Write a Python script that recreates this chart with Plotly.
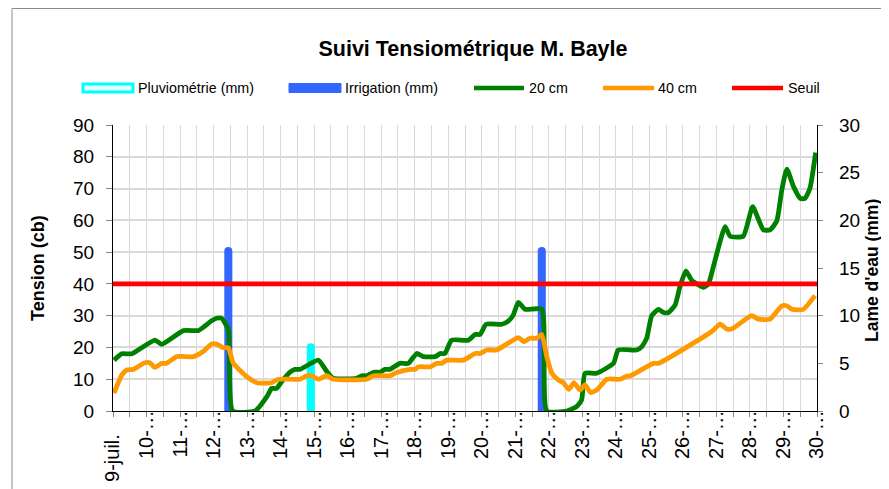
import plotly.graph_objects as go

# ---------------- DATA ----------------
# x values: day of July (fractional = time of day)
jours_ticks = list(range(9, 31))
tick_labels = ["9-juil.\u2003\u2009"] + [f"{d}-…" for d in range(10, 31)]

x_20cm = [9.03, 9.26, 9.56, 10.25, 10.45, 11.10, 11.54, 11.69, 11.94, 12.09, 12.24, 12.44,
          12.57, 13.24, 13.59, 13.73, 13.88, 14.03, 14.28, 14.43, 14.58, 15.12, 15.38, 15.57,
          16.27, 16.42, 16.57, 16.77, 16.97, 17.11, 17.26, 17.56, 17.81, 18.06, 18.26, 18.61,
          18.76, 18.90, 19.10, 19.60, 19.80, 19.95, 20.13, 20.60, 20.79, 20.94, 21.09, 21.29,
          21.79, 21.94, 22.54, 22.83, 22.98, 23.08, 23.43, 23.93, 24.07, 24.62, 24.77, 24.92,
          25.07, 25.27, 25.42, 25.57, 25.77, 25.91, 26.09, 26.26, 26.61, 26.76, 26.96, 27.26,
          27.41, 27.80, 28.08, 28.28, 28.40, 28.60, 28.80, 28.95, 29.10, 29.30, 29.50, 29.64,
          29.79, 29.96]
tension_20cm = [16.0, 18.0, 18.0, 22.3, 21.0, 25.3, 25.3, 26.3, 28.4, 29.2, 29.2, 25.5,
                0.0, 0.0, 4.5, 7.1, 7.1, 9.2, 12.2, 13.1, 13.1, 16.0, 12.4, 10.3,
                10.3, 11.1, 11.1, 12.2, 12.2, 13.1, 13.1, 15.0, 15.0, 18.1, 17.1, 17.1,
                18.1, 18.1, 22.3, 22.3, 24.1, 24.1, 27.3, 27.3, 28.3, 30.2, 34.2, 32.0,
                32.0, 0.0, 0.0, 1.4, 3.5, 11.9, 11.9, 15.0, 19.2, 19.2, 20.2, 22.9,
                30.0, 32.0, 31.0, 31.0, 33.4, 39.1, 44.1, 41.2, 38.9, 40.0, 47.5, 58.0,
                55.0, 55.0, 64.3, 59.6, 57.0, 57.0, 59.8, 69.5, 76.1, 70.6, 66.9, 66.9,
                70.1, 81.3]

x_40cm = [9.03, 9.26, 9.41, 9.61, 9.95, 10.10, 10.25, 10.45, 10.60, 10.90, 11.40, 11.69,
          11.94, 12.09, 12.29, 12.44, 12.59, 12.99, 13.29, 13.73, 13.93, 14.58, 14.78, 14.92,
          15.12, 15.38, 15.57, 16.57, 16.77, 17.26, 17.46, 17.86, 18.01, 18.11, 18.46, 18.66,
          18.80, 18.95, 19.45, 19.80, 19.95, 20.15, 20.44, 21.09, 21.26, 21.44, 21.64, 21.79,
          21.94, 22.09, 22.28, 22.43, 22.60, 22.75, 22.93, 23.08, 23.25, 23.43, 23.73, 24.13,
          24.33, 24.42, 25.12, 25.27, 26.86, 27.11, 27.31, 27.46, 28.05, 28.25, 28.60, 28.95,
          29.10, 29.25, 29.59, 29.94]
tension_40cm = [5.6, 11.3, 12.9, 13.1, 15.2, 15.2, 13.7, 15.0, 15.0, 17.1, 17.1, 18.7,
                21.1, 21.1, 19.9, 19.9, 15.0, 10.8, 8.9, 8.9, 10.0, 10.0, 11.1, 11.1,
                10.0, 11.1, 10.0, 10.0, 11.1, 11.1, 12.1, 13.1, 13.1, 13.9, 13.9, 15.0,
                15.0, 16.0, 16.0, 18.1, 18.1, 19.2, 19.2, 23.1, 21.8, 22.9, 22.9, 24.1,
                17.1, 11.9, 9.8, 8.9, 6.8, 8.9, 6.6, 8.2, 5.8, 6.6, 10.0, 10.0,
                11.0, 11.0, 15.0, 15.0, 25.0, 27.3, 25.8, 25.8, 30.0, 28.9, 28.9, 33.1,
                33.1, 32.0, 32.0, 36.3]

x_seuil = [9, 30]
seuil = [40, 40]

x_irrigation = [12.44, 21.79]
irrigation_mm = [17.2, 17.2]

x_pluvio = [14.90]
pluvio_mm = [7.1]

# ---------------- STYLE / LAYOUT ----------------
# page body has an 8 px margin, so the figure is drawn from (8, 8) in the window
OFF = 8
WIN_W, WIN_H = 889, 489
W, H = WIN_W - OFF, WIN_H - OFF
L, R, T, B = 113, 817, 125, 411          # plot box in window pixels
FONT = "Liberation Sans, Arial, sans-serif"
GREEN, ORANGE, RED = "#008000", "#FF9900", "#FF0000"
BLUE, CYAN = "#3366FF", "#00FFFF"
GRID = "#D9D9D9"


def px(xp):
    return (xp - L) / (R - L)


def py(yp):
    return (B - yp) / (B - T)


fig = go.Figure()

# bars on primary y (mm, right side)
fig.add_trace(go.Bar(x=x_pluvio, y=pluvio_mm, width=0.24, name="Pluviométrie (mm)",
                     marker=dict(color=CYAN, line=dict(width=0), cornerradius=4),
                     yaxis="y", showlegend=False))
fig.add_trace(go.Bar(x=x_irrigation, y=irrigation_mm, width=0.24, name="Irrigation (mm)",
                     marker=dict(color=BLUE, line=dict(width=0), cornerradius=4),
                     yaxis="y", showlegend=False))

# lines on overlaying y2 (cb, left side)
fig.add_trace(go.Scatter(x=x_20cm, y=tension_20cm, mode="lines", name="20 cm",
                         line=dict(color=GREEN, width=4.8, shape="spline", smoothing=0.5),
                         yaxis="y2", showlegend=False))
fig.add_trace(go.Scatter(x=x_40cm, y=tension_40cm, mode="lines", name="40 cm",
                         line=dict(color=ORANGE, width=4.8, shape="spline", smoothing=0.5),
                         yaxis="y2", showlegend=False))
fig.add_trace(go.Scatter(x=x_seuil, y=seuil, mode="lines", name="Seuil",
                         line=dict(color=RED, width=4.8), yaxis="y2", showlegend=False))

fig.update_layout(
    width=W, height=H, autosize=False,
    margin=dict(l=L - OFF, r=WIN_W - R, t=T - OFF, b=WIN_H - B, pad=0),
    paper_bgcolor="white", plot_bgcolor="white",
    font=dict(family=FONT, size=19, color="black"),
    barmode="overlay",
    title=dict(text="<b>Suivi Tensiométrique M. Bayle</b>", x=(473 - OFF) / W, xanchor="center",
               y=1 - (48 - OFF) / H, yanchor="middle", font=dict(size=21.5, family=FONT)),
    xaxis=dict(range=[9, 30], tickmode="array", tickvals=jours_ticks, ticktext=tick_labels,
               tickangle=-90, showline=True, linecolor="black", linewidth=1.3,
               ticks="outside", ticklen=5, tickcolor="#888888",
               ticklabelstandoff=-15, automargin=False,
               showgrid=True, gridcolor=GRID, gridwidth=1,
               minor=dict(dtick=0.5, tick0=9, showgrid=True, gridcolor=GRID,
                          ticks="outside", ticklen=5, tickcolor="#888888"),
               zeroline=False, tickfont=dict(size=20)),
    yaxis=dict(range=[0, 30], dtick=5, side="right", showgrid=False, zeroline=False,
               showline=True, linecolor="black", linewidth=1.3, automargin=False,
               ticks="outside", ticklen=5, tickcolor="#888888",
               ticklabelstandoff=12, tickfont=dict(size=19)),
    yaxis2=dict(range=[0, 90], dtick=10, side="left", overlaying="y", anchor="x",
                showgrid=True, gridcolor=GRID, gridwidth=1.5, zeroline=False,
                showline=True, linecolor="black", linewidth=1.3, automargin=False,
                ticks="outside", ticklen=6, tickcolor="#888888",
                ticklabelstandoff=8, tickfont=dict(size=19)),
)

# axis titles
fig.add_annotation(text="<b>Tension (cb)</b>", xref="paper", yref="paper",
                   x=px(38), y=py(268), textangle=-90, showarrow=False,
                   font=dict(size=18), xanchor="center", yanchor="middle")
fig.add_annotation(text="<b>Lame d'eau (mm)</b>", xref="paper", yref="paper",
                   x=px(872), y=py(271), textangle=-90, showarrow=False,
                   font=dict(size=17.5), xanchor="center", yanchor="middle")

# outer chart border (top edge at the top of the figure)
fig.add_shape(type="rect", xref="paper", yref="paper", x0=px(12), y0=py(8.5), x1=px(900),
              y1=py(500), line=dict(color="#8C8C8C", width=1), fillcolor="rgba(0,0,0,0)",
              layer="below")

# manual legend
leg_y = 88
fig.add_shape(type="rect", xref="paper", yref="paper", x0=px(83), x1=px(133),
              y0=py(leg_y - 4), y1=py(leg_y + 4), line=dict(color=CYAN, width=3),
              fillcolor="#DDFFFF")
fig.add_shape(type="rect", xref="paper", yref="paper", x0=px(289), x1=px(341),
              y0=py(leg_y - 4.5), y1=py(leg_y + 4.5), line=dict(color=BLUE, width=1),
              fillcolor=BLUE)
for x0, x1, col in [(474, 524, GREEN), (603, 654, ORANGE), (732, 783, RED)]:
    fig.add_shape(type="line", xref="paper", yref="paper", x0=px(x0), x1=px(x1),
                  y0=py(leg_y), y1=py(leg_y), line=dict(color=col, width=4.5))
for xt, txt in [(136, "Pluviométrie (mm)"), (343, "Irrigation (mm)"), (527, "20 cm"),
                (656, "40 cm"), (786, "Seuil")]:
    fig.add_annotation(text=txt, xref="paper", yref="paper", x=px(xt), y=py(leg_y),
                       xanchor="left", yanchor="middle", showarrow=False,
                       font=dict(size=14.3))

fig.write_html("out.html")
